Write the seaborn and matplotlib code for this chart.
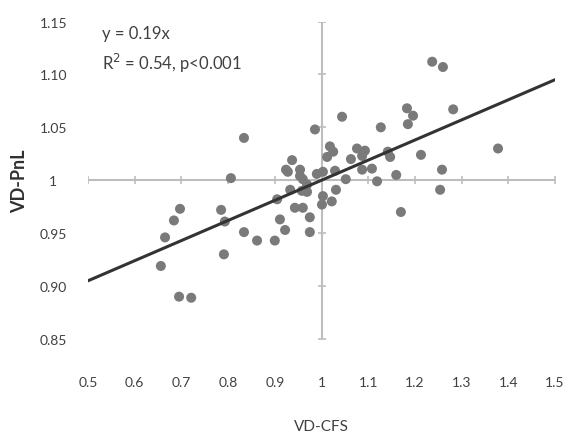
import numpy as np
import pandas as pd
import matplotlib
matplotlib.use("Agg")
import matplotlib.pyplot as plt
import seaborn as sns

# Data
vd_cfs = [0.656, 0.665, 0.684, 0.697, 0.695, 0.721, 0.785, 0.793, 0.791, 0.806,
          0.834, 0.834, 0.862, 0.900, 0.922, 0.975, 0.911, 0.975, 0.905, 0.943,
          0.960, 0.933, 0.958, 0.969, 0.960, 0.954, 0.954, 0.924, 0.937, 0.986,
          0.990, 1.003, 1.029, 1.003, 1.001, 1.022, 1.031, 1.018, 1.025, 1.012,
          1.044, 1.076, 1.093, 1.087, 1.063, 1.087, 1.108, 1.052, 1.119, 1.127,
          1.142, 1.147, 1.160, 1.170, 1.183, 1.196, 1.185, 1.213, 1.237, 1.260,
          1.282, 1.258, 1.254, 1.378, 0.969, 0.928]
vd_pnl = [0.919, 0.946, 0.962, 0.973, 0.890, 0.889, 0.972, 0.961, 0.930, 1.002,
          1.040, 0.951, 0.943, 0.943, 0.953, 0.951, 0.963, 0.965, 0.982, 0.974,
          0.974, 0.991, 0.990, 0.996, 1.001, 1.004, 1.010, 1.010, 1.019, 1.048,
          1.006, 1.008, 1.009, 0.985, 0.977, 0.980, 0.991, 1.032, 1.027, 1.022,
          1.060, 1.030, 1.028, 1.023, 1.020, 1.010, 1.011, 1.001, 0.999, 1.050,
          1.027, 1.022, 1.005, 0.970, 1.068, 1.061, 1.053, 1.024, 1.112, 1.107,
          1.067, 1.010, 0.991, 1.030, 0.989, 1.008]

slope = 0.19
fit_x = [0.5, 1.5]

x_ticks = [0.5, 0.6, 0.7, 0.8, 0.9, 1.0, 1.1, 1.2, 1.3, 1.4, 1.5]
x_labels = ['0.5', '0.6', '0.7', '0.8', '0.9', '1', '1.1', '1.2', '1.3', '1.4', '1.5']
y_ticks = [0.85, 0.90, 0.95, 1.00, 1.05, 1.10, 1.15]
y_labels = ['0.85', '0.90', '0.95', '1', '1.05', '1.10', '1.15']

df = pd.DataFrame({'VD-CFS': vd_cfs, 'VD-PnL': vd_pnl})
fit = pd.DataFrame({'x': fit_x, 'y': [1 + slope * (v - 1) for v in fit_x]})

sns.set_style('white')
plt.rcParams['font.family'] = ['Lato', 'DejaVu Sans']

fig = plt.figure(figsize=(5.7, 4.39), dpi=100)
ax = fig.add_axes([88 / 570, 1 - 340 / 439, 467 / 570, 317.5 / 439])

axis_col = '#bdbdbd'
ax.axhline(1.0, color=axis_col, lw=1.5, zorder=1)
ax.axvline(1.0, color=axis_col, lw=1.5, zorder=1)
ax.plot(x_ticks, [1.0] * len(x_ticks), ls='none', marker='|', ms=6,
        mew=1.2, color=axis_col, zorder=1)
ax.plot([1.0] * len(y_ticks), y_ticks, ls='none', marker='_', ms=6,
        mew=1.2, color=axis_col, zorder=1)

sns.scatterplot(data=df, x='VD-CFS', y='VD-PnL', ax=ax, color='#7a7a7a',
                s=52, edgecolor='none', zorder=3)
sns.lineplot(data=fit, x='x', y='y', ax=ax, color='#333333', lw=2.2, zorder=4)

ax.set_xlim(0.5, 1.5)
ax.set_ylim(0.85, 1.15)
ax.set_xticks(x_ticks)
ax.set_xticklabels(x_labels)
ax.set_yticks(y_ticks)
ax.set_yticklabels(y_labels)
for s in ax.spines.values():
    s.set_visible(False)
ax.tick_params(axis='x', length=0, pad=27, labelsize=10, labelcolor='#404040')
ax.tick_params(axis='y', length=0, pad=25, labelsize=10, labelcolor='#404040')
for lab in ax.get_yticklabels():
    lab.set_horizontalalignment('center')

ax.set_xlabel('VD-CFS', fontsize=11, color='#404040', labelpad=22)
ax.set_ylabel('VD-PnL', fontsize=13, color='#303030', fontweight='bold', labelpad=8)

ax.text(0.03, 0.965, 'y = 0.19x', transform=ax.transAxes, fontsize=12,
        color='#404040', va='center', ha='left')
ax.text(0.03, 0.87, 'R$^2$ = 0.54, p<0.001', transform=ax.transAxes, fontsize=12,
        color='#404040', va='center', ha='left')

fig.savefig('out.png', dpi=100)
